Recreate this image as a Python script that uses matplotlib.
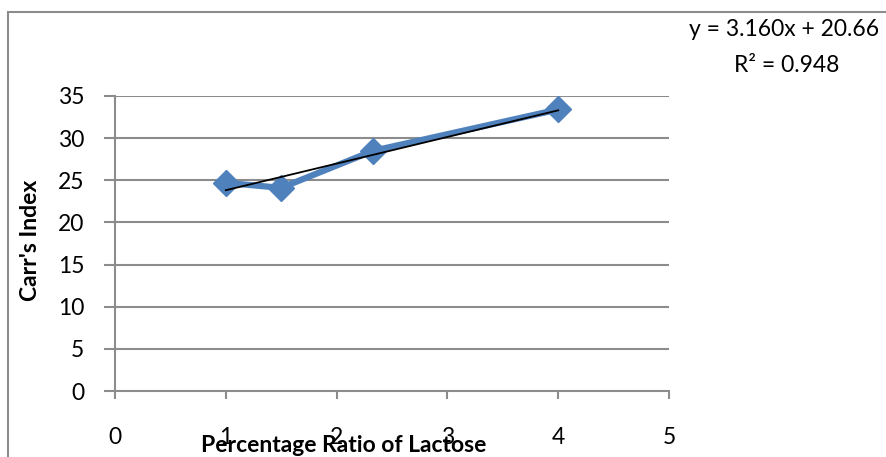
import matplotlib
import matplotlib.pyplot as plt
from matplotlib.patches import Rectangle
import numpy as np

# data
ratio = [1.0, 1.5, 2.33, 4.0]
carr = [24.7, 24.1, 28.5, 33.4]
slope, intercept = 3.160, 20.66
eq_text = "y = 3.160x + 20.66"
r2_text = "R² = 0.948"

BLUE = '#4F81BD'
GRID = '#8c8c8c'
FONT = 'Lato'
FS = 16.5


def main():
    matplotlib.rcParams['font.family'] = [FONT, 'DejaVu Sans']
    fig = plt.figure(figsize=(8.87, 4.57), dpi=100)

    # chart area border (cut off at right and bottom in the original)
    fig.patches.append(Rectangle((8 / 887, -0.1), 1.2, (457 - 12) / 457 + 0.1,
                                 transform=fig.transFigure, fill=False,
                                 edgecolor=GRID, linewidth=1.5))

    ax = fig.add_axes([115 / 887, 66 / 457, 554 / 887, 295 / 457])
    ax.set_xlim(0, 5)
    ax.set_ylim(0, 35)
    ax.set_xticks(np.arange(0, 6, 1))
    ax.set_yticks(np.arange(0, 40, 5))

    for y in np.arange(5, 40, 5):
        ax.axhline(y, color=GRID, linewidth=1.5, zorder=1)

    ax.plot(ratio, carr, color=BLUE, linewidth=4.5, marker='D', markersize=13,
            zorder=3)
    xt = np.array([min(ratio), max(ratio)])
    ax.plot(xt, slope * xt + intercept, color='black', linewidth=1.3, zorder=4)

    for s in ['top', 'right']:
        ax.spines[s].set_visible(False)
    for s in ['left', 'bottom']:
        ax.spines[s].set_color(GRID)
        ax.spines[s].set_linewidth(1.5)

    ax.tick_params(axis='y', direction='out', length=8, width=1.5, color=GRID,
                   pad=14, labelsize=FS)
    ax.tick_params(axis='x', direction='out', length=6, width=1.5, color=GRID,
                   pad=20, labelsize=FS)

    ax.set_ylabel("Carr's Index", fontsize=FS, fontweight='bold', va='center')
    ax.yaxis.set_label_coords(-85 / 554, 151 / 295)
    ax.set_xlabel("Percentage Ratio of Lactose", fontsize=FS, fontweight='bold',
                  va='baseline')
    ax.xaxis.set_label_coords(229 / 554, -61 / 295)

    fig.text(784 / 887, 1 - 30 / 457, eq_text, fontsize=FS, ha='center', va='center')
    fig.text(787 / 887, 1 - 65 / 457, r2_text, fontsize=FS, ha='center', va='center')

    plt.savefig('out.png', dpi=100)


if __name__ == '__main__':
    main()
